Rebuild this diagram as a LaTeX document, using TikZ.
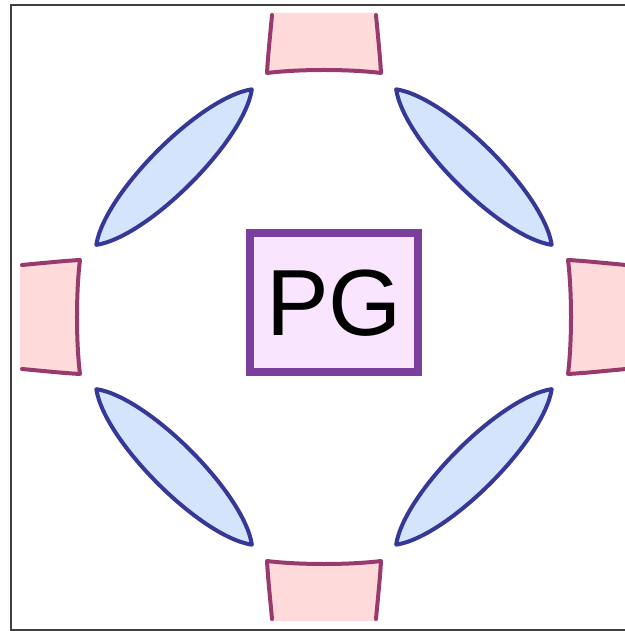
\documentclass[tikz,border=0pt]{standalone}
\usepackage{fontspec}
\usepackage{xcolor}
\setmainfont{Liberation Sans}
\definecolor{polefill}{HTML}{FFDADA}
\definecolor{poleline}{HTML}{993A6E}
\definecolor{lensfill}{HTML}{D4E4FC}
\definecolor{lensline}{HTML}{363897}
\definecolor{pgfill}{HTML}{F9E5FE}
\definecolor{pgline}{HTML}{7A3E9C}

\begin{document}
\begin{tikzpicture}[x=1pt,y=1pt,
    pole/.style={draw=poleline, line width=4pt, line join=round, line cap=round},
    lens/.style={draw=lensline, fill=lensfill, line width=4pt, line join=round},
    pgbox/.style={draw=pgline, fill=pgfill, line width=8pt, minimum width=168pt, minimum height=139pt, inner sep=0pt, font=\fontsize{94}{94}\selectfont}]
    \useasboundingbox (-324,-314) rectangle (300,317);
    \draw[black!75, line width=1.3pt] (-313,-313) rectangle (313,312);
    % poles
    \foreach \a in {0,90,180,270} {
        \begin{scope}[rotate=\a]
            \fill[polefill] (-52,304) -- (52,304) .. controls (54,280) and (56,262) .. (57,244)
                .. controls (25,248) and (-25,248) .. (-57,244) .. controls (-56,262) and (-54,280) .. cycle;
            \draw[pole] (-52,302) .. controls (-54,280) and (-56,262) .. (-57,244)
                .. controls (-25,248) and (25,248) .. (57,244) .. controls (56,262) and (54,280) .. (52,302);
        \end{scope}
    }
    % lenses
    \foreach \a in {45,135,225,315} {
        \begin{scope}[rotate=\a, shift={(212,0)}]
            \draw[lens] (0,-110) .. controls (31,-68) and (31,68) .. (0,110)
                .. controls (-31,68) and (-31,-68) .. cycle;
        \end{scope}
    }
    \node[pgbox] (pg) at (10,14) {PG};
\end{tikzpicture}
\end{document}
